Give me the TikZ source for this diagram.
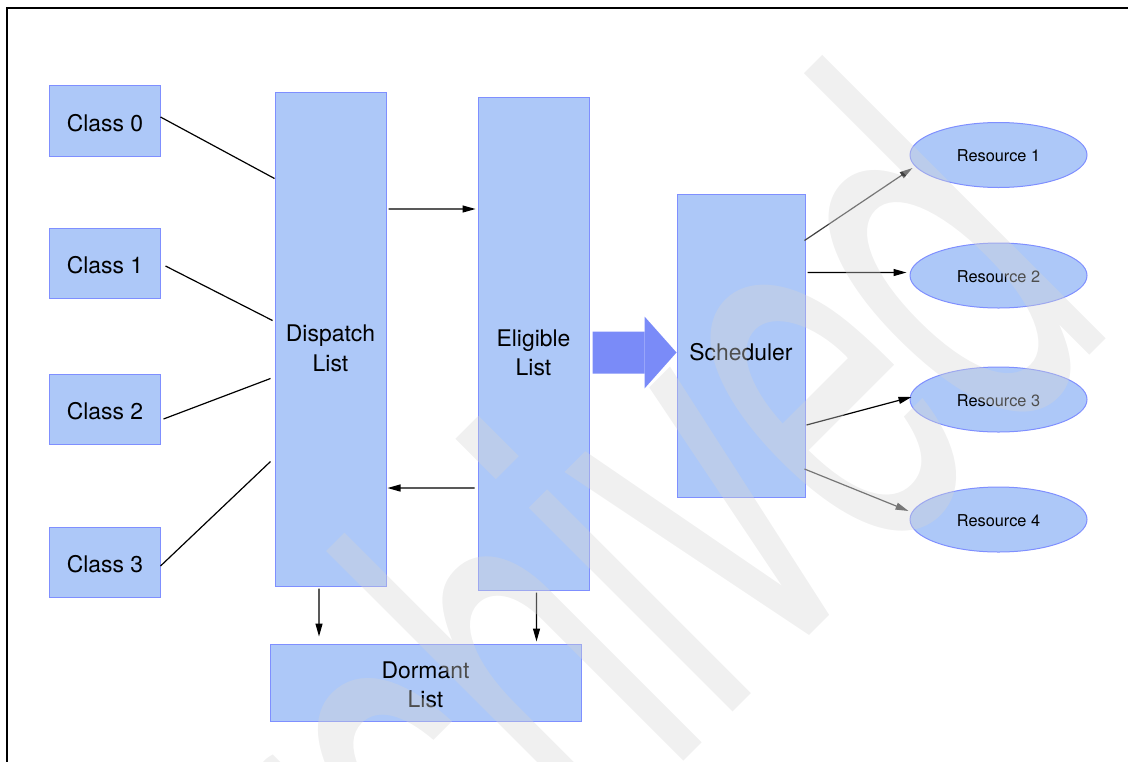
\documentclass[tikz,border=0pt]{standalone}
\usepackage{fontspec}
\setmainfont{TeX Gyre Heros}
\usepackage{graphicx}
\usetikzlibrary{arrows.meta, shapes.geometric}
\definecolor{boxfill}{HTML}{ADC8F8}
\definecolor{boxedge}{HTML}{7F8FFF}
\definecolor{bigblue}{HTML}{7A8BF8}
\definecolor{wmgray}{HTML}{D5D5D5}
\definecolor{dkgray}{HTML}{404040}

% text set a little below the middle of its box
\newcommand{\dropped}[2]{\raisebox{-#1}[\height][\depth]{\begin{tabular}{@{}c@{}}#2\end{tabular}}}

\begin{document}
\begin{tikzpicture}[
  x=0.5bp, y=-0.5bp,
  >={Triangle[length=6.5bp, width=3.5bp]},
  lbox/.style={
    draw=boxedge, line width=0.5bp, fill=boxfill, inner sep=0pt,
    font=\fontsize{11.5}{14.8}\selectfont, align=center
  },
  res/.style={
    ellipse, draw=boxedge, line width=0.5bp, fill=boxfill, inner sep=0pt,
    minimum width=88.5bp, minimum height=32.5bp,
    font=\fontsize{8.2}{10}\selectfont
  },
  link/.style={line width=0.6bp, black},
  arr/.style={->, line width=0.6bp, #1},
  arr/.default=black,
  bigarr/.style={-{Triangle[length=16bp, width=36bp, line width=0pt]},
    line width=21bp, bigblue},
  wmark/.style={text=wmgray, text opacity=0.37, inner sep=0pt,
    font=\fontsize{276}{276}\selectfont},
]

\useasboundingbox (0,0) rectangle (1128,761);

% Frame
\draw[line width=0.6bp] (7,775) -- (7,8) -- (1140,8);

% =============================================
% Classes and lists
% =============================================
\node[lbox, minimum width=55bp, minimum height=35.5bp] (c0) at (105,120.5) {\dropped{2.4bp}{Class 0}};
\node[lbox, minimum width=55bp, minimum height=35bp] (c1) at (105,263) {\dropped{2.4bp}{Class 1}};
\node[lbox, minimum width=55bp, minimum height=35bp] (c2) at (105,409) {\dropped{2.4bp}{Class 2}};
\node[lbox, minimum width=55bp, minimum height=35bp] (c3) at (105,562) {\dropped{2.4bp}{Class 3}};

\node[lbox, minimum width=55.5bp, minimum height=246.5bp] (disp) at (330.5,339.5)
  {\dropped{5.5bp}{Dispatch\\List}};
\node[lbox, minimum width=55.5bp, minimum height=246bp] (elig) at (533.5,344)
  {\dropped{5.5bp}{Eligible\\List}};
\node[lbox, minimum width=64bp, minimum height=151.5bp] (sched) at (741,345.5)
  {\dropped{4.4bp}{Scheduler}};
\node[lbox, minimum width=155.5bp, minimum height=38.5bp] (dorm) at (425.5,682.5)
  {\dropped{2.4bp}{Dormant\\List}};

% =============================================
% Resources
% =============================================
\node[res] (r1) at (998.5,155) {\dropped{1.5bp}{Resource 1}};
\node[res] (r2) at (998.5,275.5) {\dropped{1.5bp}{Resource 2}};
\node[res] (r3) at (998.5,399.5) {\dropped{1.5bp}{Resource 3}};
\node[res] (r4) at (998.5,519.5) {\dropped{1.5bp}{Resource 4}};

% =============================================
% Connectors
% =============================================
\draw[link] ([yshift=1.75bp]c0.east) -- ([yshift=-43bp]disp.north west);
\draw[link] ([xshift=2.5bp,yshift=-1.5bp]c1.east) -- ([xshift=-1bp,yshift=-114bp]disp.north west);
\draw[link] ([xshift=1.5bp,yshift=-5bp]c2.east) -- ([xshift=-2bp,yshift=-143bp]disp.north west);
\draw[link] ([yshift=-2bp]c3.east) -- ([xshift=-2bp,yshift=-184.5bp]disp.north west);

\draw[arr] ([xshift=1bp,yshift=65.25bp]disp.east) -- ([xshift=-1bp,yshift=67.5bp]elig.west);
\draw[arr] ([xshift=-1.5bp,yshift=-72bp]elig.west) -- ([xshift=0.5bp,yshift=-74.25bp]disp.east);
\draw[arr] ([xshift=-5.75bp,yshift=-1bp]disp.south) -- ([xshift=-53.25bp,yshift=3.5bp]dorm.north);
\draw[arr] ([xshift=1.5bp,yshift=-1bp]elig.south) -- ([xshift=55.5bp,yshift=1bp]dorm.north);

\draw[bigarr] ([xshift=1.5bp,yshift=-4.25bp]elig.east) -- ([yshift=-3.5bp]sched.west);

\draw[arr=dkgray] ([xshift=-0.5bp,yshift=52.5bp]sched.east) -- ([xshift=1.5bp,yshift=-6.5bp]r1.west);
\draw[arr] ([xshift=1bp,yshift=36.5bp]sched.east) -- ([xshift=-1.5bp,yshift=1.5bp]r2.west);
\draw[arr] ([xshift=0.5bp,yshift=-39.75bp]sched.east) -- ([xshift=1bp,yshift=1.25bp]r3.west);
\draw[arr=dkgray] ([xshift=-0.5bp,yshift=-61.75bp]sched.east) -- ([xshift=-0.5bp,yshift=4.25bp]r4.west);

% Watermark
\node[wmark, rotate=45, anchor=base] (wm) at (691.5,753.8) {\scalebox{0.57}[1]{Archived}};

\end{tikzpicture}
\end{document}
